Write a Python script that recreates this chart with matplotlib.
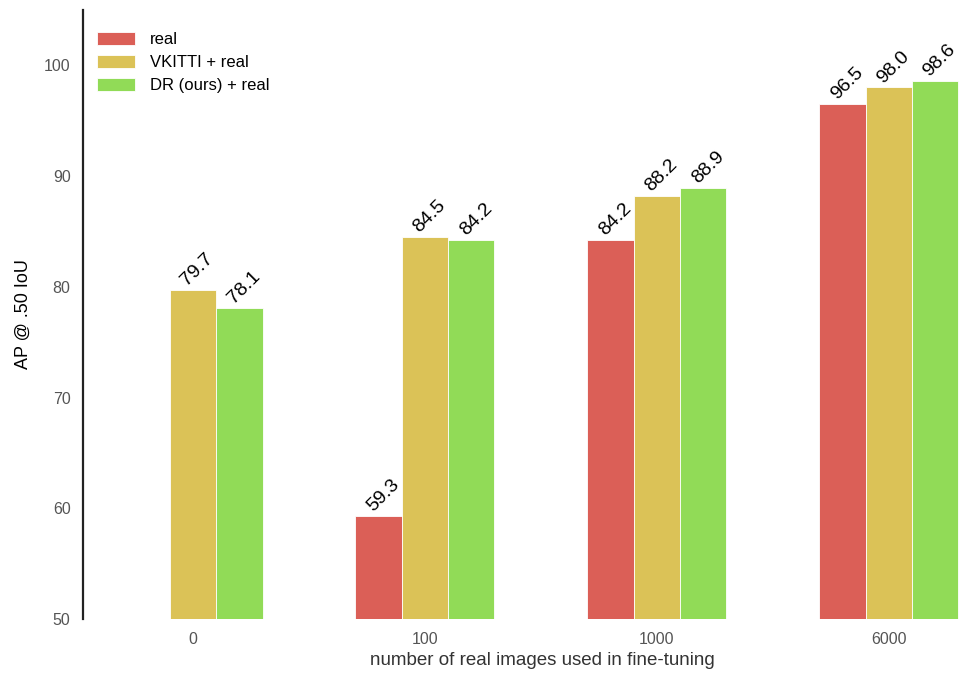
import numpy as np
import matplotlib.pyplot as plt

plt.rcParams['font.family'] = ['Liberation Sans', 'DejaVu Sans']

groups = ['0', '100', '1000', '6000']
series = ['real', 'VKITTI + real', 'DR (ours) + real']
real = [np.nan, 59.3, 84.2, 96.5]
vkitti = [79.7, 84.5, 88.2, 98.0]
dr = [78.1, 84.2, 88.9, 98.6]
colors = ['#db5f57', '#dbc257', '#91db57']

fig = plt.figure(figsize=(9.6, 6.73), dpi=100)
# the original chart runs past the right edge of the image
ax = fig.add_axes([0.0865, 0.0802, 0.956, 0.905])

x = np.arange(len(groups))
w = 0.2
for i, (vals, name, c) in enumerate(zip([real, vkitti, dr], series, colors)):
    pos = x + (i - 1) * w
    ax.bar(pos, vals, w, color=c, label=name, edgecolor='white', linewidth=0.6)
    for p, v in zip(pos, vals):
        if np.isnan(v):
            continue
        ax.text(p + 0.02, v + 0.1, f'{v:.1f}', rotation=45, ha='center', va='bottom',
                fontsize=14, color='black')

ax.set_ylim(50, 105)
ax.set_xlim(-0.474, 3.483)
ax.set_yticks([50, 60, 70, 80, 90, 100])
ax.set_xticks(x)
ax.set_xticklabels(groups)
ax.tick_params(length=0, labelsize=11.5, labelcolor='#555555')
ax.tick_params(axis='y', pad=9)
ax.tick_params(axis='x', pad=9)

for s in ['top', 'right', 'bottom']:
    ax.spines[s].set_visible(False)
ax.spines['left'].set_linewidth(1.6)
ax.spines['left'].set_color('#222222')

ax.set_ylabel('AP @ .50 IoU', fontsize=13, labelpad=9)
ax.set_xlabel('number of real images used in fine-tuning', fontsize=13.5, color='#333333', labelpad=4)

ax.legend(loc='upper left', frameon=False, fontsize=12, handlelength=2.3, handleheight=0.85,
          handletextpad=0.9, labelspacing=0.45, borderaxespad=0,
          bbox_to_anchor=(0.0075, 0.975))

fig.savefig('out.png', dpi=100)
